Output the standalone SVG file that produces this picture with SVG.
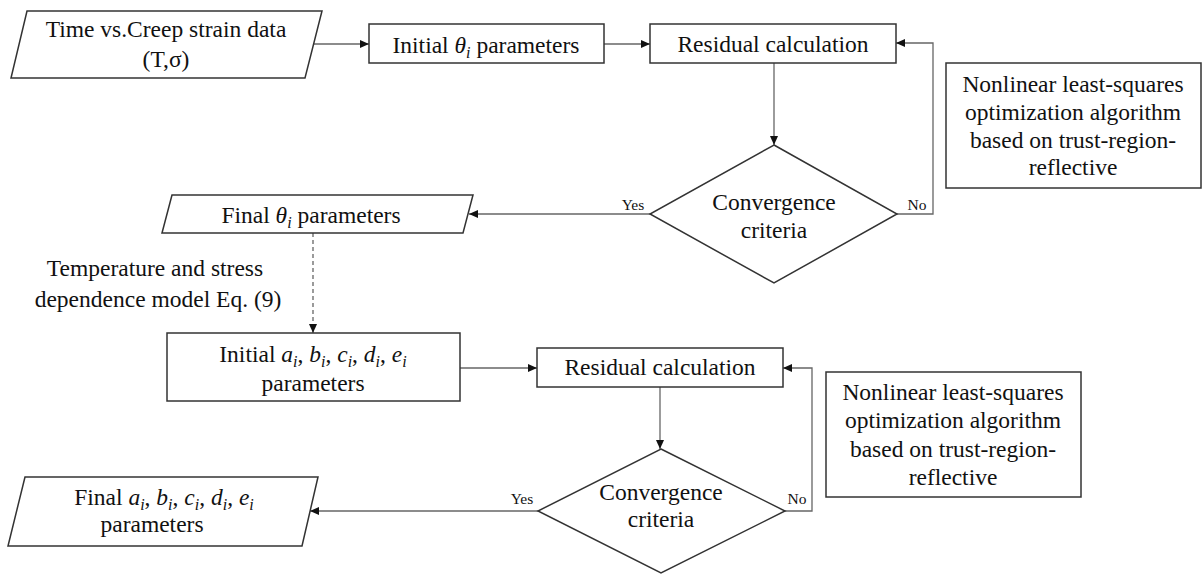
<svg xmlns="http://www.w3.org/2000/svg" width="1202" height="574" viewBox="0 0 1202 574">
<style>
.shape{fill:#fff;stroke:#333;stroke-width:1.5}
.conn{fill:none;stroke:#666;stroke-width:1.3}
.dash{fill:none;stroke:#666;stroke-width:1.3;stroke-dasharray:4 3}
text{font-family:"Liberation Serif","Times New Roman",serif;font-size:23.5px;fill:#111;text-anchor:middle}
.lbl{font-size:15.5px}
.m{font-style:italic}
.s{font-style:italic;font-size:16px}
</style>
<defs>
<marker id="ah" markerWidth="9" markerHeight="8" refX="9" refY="4" orient="auto" markerUnits="userSpaceOnUse">
<path d="M0,0 L9,4 L0,8 Z" fill="#111"/>
</marker>
</defs>
<rect width="1202" height="574" fill="#fff"/>
<g id="connectors">
<line class="conn" x1="314" y1="44" x2="369" y2="44" marker-end="url(#ah)"/>
<line class="conn" x1="604" y1="44" x2="650" y2="44" marker-end="url(#ah)"/>
<line class="conn" x1="774" y1="63" x2="774" y2="145" marker-end="url(#ah)"/>
<polyline class="conn" points="897,214 933,214 933,43 896,43" marker-end="url(#ah)"/>
<line class="conn" x1="650" y1="214" x2="469" y2="214" marker-end="url(#ah)"/>
<line class="dash" x1="313" y1="233" x2="313" y2="333" marker-end="url(#ah)"/>
<line class="conn" x1="460" y1="368" x2="537" y2="368" marker-end="url(#ah)"/>
<line class="conn" x1="660" y1="387" x2="660" y2="449" marker-end="url(#ah)"/>
<polyline class="conn" points="785,511 812,511 812,368 783,368" marker-end="url(#ah)"/>
<line class="conn" x1="538" y1="511" x2="310" y2="511" marker-end="url(#ah)"/>
<text class="lbl" x="633" y="210">Yes</text>
<text class="lbl" x="917" y="210">No</text>
<text class="lbl" x="522" y="504">Yes</text>
<text class="lbl" x="797" y="504">No</text>
</g>
<g id="input-data">
<polygon class="shape" points="27,11 322,11 305,78 11,78"/>
<text x="166" y="37">Time vs.Creep strain data</text>
<text x="166" y="67">(T,σ)</text>
</g>
<g id="initial-theta">
<rect class="shape" x="369" y="24" width="235" height="39"/>
<text x="486" y="53">Initial <tspan class="m">θ</tspan><tspan class="s" dy="5">i</tspan><tspan dy="-5"> parameters</tspan></text>
</g>
<g id="residual-1">
<rect class="shape" x="650" y="24" width="246" height="39"/>
<text x="773" y="52">Residual calculation</text>
</g>
<g id="convergence-1">
<polygon class="shape" points="774,145 897,214 774,283 650,214"/>
<text x="774" y="210">Convergence</text>
<text x="774" y="238">criteria</text>
</g>
<g id="algorithm-1">
<rect class="shape" x="946" y="63" width="255" height="125"/>
<text x="1073" y="92">Nonlinear least-squares</text>
<text x="1073" y="120">optimization algorithm</text>
<text x="1073" y="148">based on trust-region-</text>
<text x="1073" y="175">reflective</text>
</g>
<g id="final-theta">
<polygon class="shape" points="172,195 473,195 463,233 162,233"/>
<text x="311" y="223">Final <tspan class="m">θ</tspan><tspan class="s" dy="5">i</tspan><tspan dy="-5"> parameters</tspan></text>
</g>
<g id="dependence-label">
<text x="155" y="276">Temperature and stress</text>
<text x="158" y="307">dependence model Eq. (9)</text>
</g>
<g id="initial-abcde">
<rect class="shape" x="167" y="333" width="293" height="68"/>
<text x="313" y="362">Initial <tspan class="m">a</tspan><tspan class="s" dy="5">i</tspan><tspan dy="-5">, </tspan><tspan class="m">b</tspan><tspan class="s" dy="5">i</tspan><tspan dy="-5">, </tspan><tspan class="m">c</tspan><tspan class="s" dy="5">i</tspan><tspan dy="-5">, </tspan><tspan class="m">d</tspan><tspan class="s" dy="5">i</tspan><tspan dy="-5">, </tspan><tspan class="m">e</tspan><tspan class="s" dy="5">i</tspan></text>
<text x="313" y="391">parameters</text>
</g>
<g id="residual-2">
<rect class="shape" x="537" y="348" width="246" height="39"/>
<text x="660" y="375">Residual calculation</text>
</g>
<g id="convergence-2">
<polygon class="shape" points="661,449 785,511 661,573 538,511"/>
<text x="661" y="500">Convergence</text>
<text x="661" y="527">criteria</text>
</g>
<g id="algorithm-2">
<rect class="shape" x="826" y="372" width="255" height="125"/>
<text x="953" y="400">Nonlinear least-squares</text>
<text x="953" y="428">optimization algorithm</text>
<text x="953" y="457">based on trust-region-</text>
<text x="953" y="485">reflective</text>
</g>
<g id="final-abcde">
<polygon class="shape" points="25,477 318,477 302,546 8,546"/>
<text x="164" y="505">Final <tspan class="m">a</tspan><tspan class="s" dy="5">i</tspan><tspan dy="-5">, </tspan><tspan class="m">b</tspan><tspan class="s" dy="5">i</tspan><tspan dy="-5">, </tspan><tspan class="m">c</tspan><tspan class="s" dy="5">i</tspan><tspan dy="-5">, </tspan><tspan class="m">d</tspan><tspan class="s" dy="5">i</tspan><tspan dy="-5">, </tspan><tspan class="m">e</tspan><tspan class="s" dy="5">i</tspan></text>
<text x="152" y="532">parameters</text>
</g>
</svg>
